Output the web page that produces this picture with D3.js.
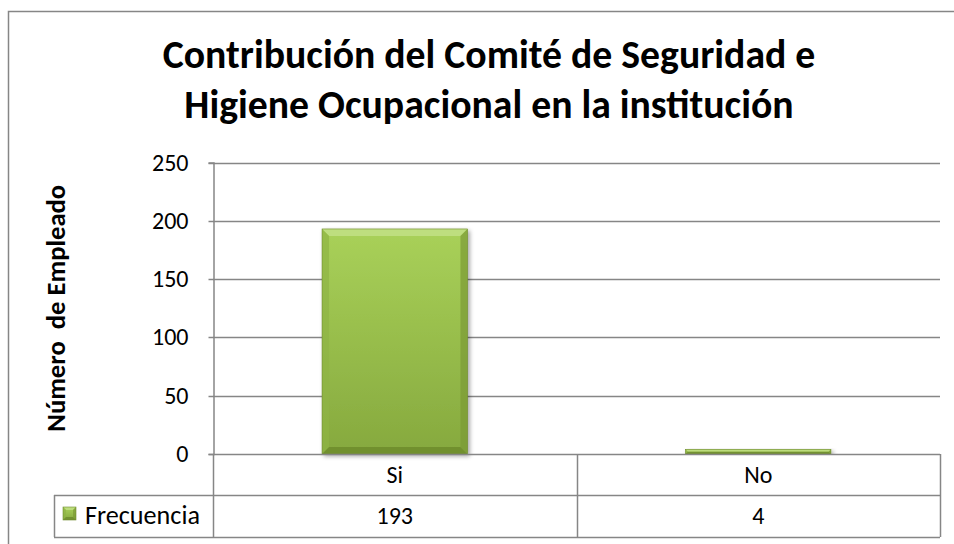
<!DOCTYPE html>
<html>
<head>
<meta charset="utf-8">
<script src="https://cdn.jsdelivr.net/npm/d3@7"></script>
<style>
  body { margin: 0; background: #fff; }
  text { font-family: Carlito, Calibri, Lato, sans-serif; fill: #000; }
</style>
</head>
<body>
<div id="chart"></div>
<script>
// Données du graphique
const categories = ["Si", "No"];
const frecuencia = [193, 4];
const serieNombre = "Frecuencia";
const yTicks = [0, 50, 100, 150, 200, 250];
const titulo = ["Contribución del Comité de Seguridad e", "Higiene Ocupacional en la institución"];
const ejeY = "Número  de Empleado";

const width = 954, height = 544;
const plot = { left: 213, right: 940, top: 162.5, bottom: 454 };
const rowH = [41, 42];
const legendLeft = 54;
const gris = "#868686";

const svg = d3.select("#chart").append("svg")
    .attr("width", width)
    .attr("height", height);

// ajuste la taille de police pour obtenir une largeur donnée
function ajustar(sel, size, largo) {
    sel.attr("font-size", size);
    const w = sel.node().getComputedTextLength();
    sel.attr("font-size", size * largo / w);
}

// dégradés des barres
const defs = svg.append("defs");
const grad = defs.append("linearGradient").attr("id", "verde")
    .attr("x1", 0).attr("y1", 0).attr("x2", 0).attr("y2", 1);
grad.append("stop").attr("offset", "0%").attr("stop-color", "#a9d159");
grad.append("stop").attr("offset", "100%").attr("stop-color", "#86a93e");

const sombra = defs.append("filter").attr("id", "sombra")
    .attr("x", "-10%").attr("y", "-10%").attr("width", "130%").attr("height", "130%");
sombra.append("feDropShadow").attr("dx", 2).attr("dy", 2).attr("stdDeviation", 2)
    .attr("flood-color", "#000").attr("flood-opacity", 0.35);

// cadre extérieur
svg.append("rect")
    .attr("x", 8.5).attr("y", 11.5)
    .attr("width", width + 20).attr("height", height + 20)
    .attr("fill", "none").attr("stroke", gris).attr("stroke-width", 1.5);

// titre, ajusté à la largeur
const title = svg.append("g");
title.selectAll("text")
    .data(titulo)
    .join("text")
    .attr("x", 489)
    .attr("y", (d, i) => 68 + i * 50)
    .attr("text-anchor", "middle")
    .attr("font-weight", "bold")
    .attr("font-size", 36)
    .text(d => d);
const w0 = title.select("text").node().getComputedTextLength();
title.selectAll("text").attr("font-size", 36 * 653 / w0);

// échelles
const y = d3.scaleLinear().domain([0, 250]).range([plot.bottom, plot.top]);
const x = d3.scaleBand().domain(categories)
    .range([plot.left, plot.right])
    .paddingInner(0.6).paddingOuter(0.3);

// grille
svg.append("g")
    .selectAll("line")
    .data(yTicks.filter(d => d > 0))
    .join("line")
    .attr("x1", plot.left).attr("x2", plot.right)
    .attr("y1", d => Math.round(y(d)) + 0.5).attr("y2", d => Math.round(y(d)) + 0.5)
    .attr("stroke", gris).attr("stroke-width", 1.5);

// axe Y
const yAxis = svg.append("g")
    .attr("transform", `translate(${plot.left + 0.5},0)`)
    .call(d3.axisLeft(y).tickValues(yTicks).tickSize(5).tickPadding(20));
yAxis.select(".domain").attr("stroke", gris).attr("stroke-width", 1.5);
yAxis.selectAll(".tick line").attr("stroke", gris).attr("stroke-width", 1.5);
yAxis.selectAll(".tick text")
    .attr("font-size", 24)
    .attr("font-family", "Carlito, Calibri, Lato, sans-serif")
    .attr("fill", "#000");
yAxis.selectAll(".tick").attr("transform", d => `translate(0,${Math.round(y(d)) + 0.5})`);

// titre de l'axe Y
const yLabel = svg.append("text")
    .attr("transform", `translate(65,${(plot.top + plot.bottom) / 2}) rotate(-90)`)
    .attr("text-anchor", "middle")
    .attr("font-weight", "bold")
    .style("white-space", "pre")
    .text(ejeY);
ajustar(yLabel, 20, 247);

// barres avec biseau
function barra(g, x0, y0, w, h, b) {
    b = Math.min(b, h / 2, w / 2);
    g.append("rect").attr("x", x0).attr("y", y0).attr("width", w).attr("height", h)
        .attr("fill", "url(#verde)");
    const x1 = x0 + w, y1 = y0 + h;
    const caras = [
        { p: [[x0, y0], [x1, y0], [x1 - b, y0 + b], [x0 + b, y0 + b]], c: "#c3e188", o: 0.8 },
        { p: [[x0, y0], [x0 + b, y0 + b], [x0 + b, y1 - b], [x0, y1]], c: "#8fb445", o: 0.7 },
        { p: [[x1, y0], [x1, y1], [x1 - b, y1 - b], [x1 - b, y0 + b]], c: "#7a9a34", o: 0.7 },
        { p: [[x0, y1], [x0 + b, y1 - b], [x1 - b, y1 - b], [x1, y1]], c: "#6c892c", o: 0.8 }
    ];
    g.selectAll("polygon.cara")
        .data(caras)
        .join("polygon")
        .attr("class", "cara")
        .attr("points", d => d.p.map(q => q.join(",")).join(" "))
        .attr("fill", d => d.c)
        .attr("fill-opacity", d => d.o);
    g.append("rect").attr("x", x0).attr("y", y0).attr("width", w).attr("height", h)
        .attr("fill", "none").attr("stroke", "#6e8b2e").attr("stroke-width", 0.6);
}

const bars = svg.append("g");
categories.forEach((c, i) => {
    const g = bars.append("g").attr("filter", "url(#sombra)");
    barra(g, x(c), y(frecuencia[i]), x.bandwidth(), y(0) - y(frecuencia[i]), 7);
});

// table de données
const tabla = svg.append("g");
const colX = categories.map(c => [x(c) - x.step() * x.paddingOuter(), x.step()]);
const r1 = plot.bottom, r2 = plot.bottom + rowH[0], r3 = r2 + rowH[1];

// lignes horizontales
tabla.append("line").attr("x1", plot.left).attr("x2", plot.right)
    .attr("y1", r1 + 0.5).attr("y2", r1 + 0.5);
tabla.append("line").attr("x1", legendLeft).attr("x2", plot.right)
    .attr("y1", r2 + 0.5).attr("y2", r2 + 0.5);
tabla.append("line").attr("x1", legendLeft).attr("x2", plot.right)
    .attr("y1", r3 + 0.5).attr("y2", r3 + 0.5);
// lignes verticales
tabla.append("line").attr("x1", legendLeft + 0.5).attr("x2", legendLeft + 0.5)
    .attr("y1", r2).attr("y2", r3);
[plot.left, ...colX.map(d => d[0] + d[1])].forEach(v => {
    tabla.append("line").attr("x1", Math.round(v) + 0.5).attr("x2", Math.round(v) + 0.5)
        .attr("y1", r1).attr("y2", r3);
});
tabla.selectAll("line").attr("stroke", gris).attr("stroke-width", 1.5);

tabla.selectAll("text.cat")
    .data(categories)
    .join("text")
    .attr("class", "cat")
    .attr("x", d => x(d) + x.bandwidth() / 2)
    .attr("y", r1 + 29)
    .attr("text-anchor", "middle")
    .attr("font-size", 24)
    .text(d => d);

tabla.selectAll("text.val")
    .data(frecuencia)
    .join("text")
    .attr("class", "val")
    .attr("x", (d, i) => x(categories[i]) + x.bandwidth() / 2)
    .attr("y", r2 + 29)
    .attr("text-anchor", "middle")
    .attr("font-size", 24)
    .text(d => d);

// légende
const leg = tabla.append("g");
barra(leg, legendLeft + 9, r2 + 12, 13, 13, 3);
const legText = tabla.append("text")
    .attr("x", legendLeft + 31)
    .attr("y", r2 + 29)
    .text(serieNombre);
ajustar(legText, 23, 115);
</script>
</body>
</html>
